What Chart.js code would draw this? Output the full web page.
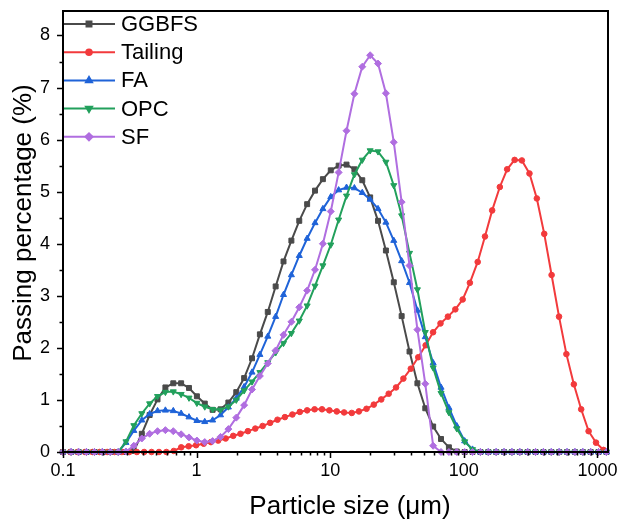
<!DOCTYPE html>
<html>
<head>
<meta charset="utf-8">
<script src="https://cdn.jsdelivr.net/npm/chart.js@4.4.1/dist/chart.umd.min.js"></script>
<style>
  html, body { margin: 0; padding: 0; background: #fff; }
  #wrap { width: 619px; height: 522px; }
</style>
</head>
<body>
<div id="wrap"><canvas id="psd" width="619" height="522"></canvas></div>
<script>
// size classes (um) of the two instruments
const sizesA = [0.0995, 0.113, 0.128, 0.146, 0.166, 0.188, 0.214, 0.243, 0.276, 0.314, 0.357, 0.405, 0.460, 0.523, 0.594,
  0.675, 0.767, 0.872, 0.991, 1.13, 1.28, 1.45, 1.65, 1.88, 2.13, 2.42, 2.75, 3.12, 3.55, 4.03, 4.58, 5.21, 5.92, 6.72,
  7.64, 8.68, 9.86, 11.2, 12.7, 14.5, 16.4, 18.7, 21.2, 24.1, 27.4, 31.1, 35.3, 40.1, 45.6, 51.8, 58.9, 66.9, 76.0, 86.4,
  98.1, 111, 127, 144, 163, 186, 211, 240, 272, 310, 352, 400, 454, 516, 586, 666, 756, 859, 976, 1110];
const sizesB = [0.100, 0.115, 0.131, 0.150, 0.172, 0.197, 0.226, 0.259, 0.296, 0.339, 0.389, 0.445, 0.510, 0.584, 0.669,
  0.766, 0.877, 1.005, 1.151, 1.318, 1.510, 1.729, 1.981, 2.269, 2.599, 2.976, 3.409, 3.905, 4.472, 5.122, 5.867, 6.720,
  7.697, 8.816, 10.097, 11.565, 13.246, 15.172, 17.377, 19.904, 22.797, 26.111, 29.907, 34.255, 39.234, 44.938, 51.471,
  58.953, 67.523, 77.339, 88.583, 101.46, 116.21, 133.10, 152.45, 174.62, 200.00, 229.08, 262.38, 300.52, 344.21, 394.24,
  451.56, 517.20, 592.39, 678.50, 777.14, 890.12, 1019.5, 1167.7];

// passing percentage (%)
const ggbfs = [0, 0, 0, 0, 0, 0, 0, 0, 0, 0.02, 0.35, 0.71, 1.01, 1.24, 1.32, 1.32, 1.23, 1.07, 0.93, 0.81, 0.82, 0.95,
  1.15, 1.42, 1.80, 2.26, 2.69, 3.18, 3.66, 4.06, 4.44, 4.76, 5.02, 5.24, 5.41, 5.50, 5.52, 5.43, 5.22, 4.89, 4.44, 3.87,
  3.26, 2.61, 1.93, 1.32, 0.84, 0.49, 0.25, 0.09, 0.01, 0, 0, 0, 0, 0, 0, 0, 0, 0, 0, 0, 0, 0, 0, 0, 0, 0, 0, 0];
const tailing = [0, 0, 0, 0, 0, 0, 0, 0, 0, 0, 0, 0, 0, 0, 0, 0.02, 0.09, 0.11, 0.13, 0.16, 0.19, 0.22, 0.26, 0.31, 0.35,
  0.40, 0.45, 0.50, 0.56, 0.62, 0.67, 0.72, 0.77, 0.80, 0.82, 0.82, 0.80, 0.78, 0.76, 0.75, 0.78, 0.83, 0.91, 1.01, 1.12,
  1.24, 1.41, 1.60, 1.82, 2.05, 2.30, 2.47, 2.60, 2.74, 2.93, 3.25, 3.65, 4.14, 4.64, 5.09, 5.43, 5.61, 5.60, 5.35, 4.87,
  4.19, 3.40, 2.60, 1.88, 1.30, 0.82, 0.40, 0.18, 0.04];
const fa = [0, 0, 0, 0, 0, 0, 0, 0, 0.18, 0.41, 0.61, 0.73, 0.79, 0.80, 0.79, 0.74, 0.67, 0.60, 0.58, 0.61, 0.71, 0.86,
  1.03, 1.25, 1.53, 1.87, 2.22, 2.60, 3.02, 3.40, 3.77, 4.10, 4.40, 4.67, 4.90, 5.03, 5.08, 5.07, 4.98, 4.85, 4.67, 4.41,
  4.06, 3.67, 3.25, 2.72, 2.21, 1.71, 1.24, 0.85, 0.50, 0.21, 0.05, 0, 0, 0, 0, 0, 0, 0, 0, 0, 0, 0, 0, 0, 0, 0, 0, 0];
const opc = [0, 0, 0, 0, 0, 0, 0, 0, 0.20, 0.51, 0.74, 0.93, 1.07, 1.15, 1.16, 1.11, 1.04, 0.94, 0.87, 0.82, 0.81, 0.87,
  1.00, 1.18, 1.35, 1.53, 1.72, 1.91, 2.09, 2.28, 2.52, 2.81, 3.19, 3.58, 3.98, 4.46, 4.92, 5.33, 5.61, 5.79, 5.77, 5.57,
  5.12, 4.54, 3.82, 3.12, 2.30, 1.62, 1.13, 0.76, 0.45, 0.20, 0.05, 0, 0, 0, 0, 0, 0, 0, 0, 0, 0, 0, 0, 0, 0, 0, 0, 0];
const sf = [0, 0, 0, 0, 0, 0, 0, 0, 0.01, 0.12, 0.26, 0.35, 0.40, 0.42, 0.40, 0.34, 0.28, 0.22, 0.19, 0.21, 0.29, 0.44,
  0.66, 0.90, 1.20, 1.46, 1.70, 1.95, 2.25, 2.50, 2.78, 3.10, 3.50, 4.00, 4.62, 5.37, 6.17, 6.88, 7.40, 7.62, 7.46, 6.89,
  5.95, 4.80, 3.58, 2.35, 1.31, 0.12, 0, 0, 0, 0, 0, 0, 0, 0, 0, 0, 0, 0, 0, 0, 0, 0, 0, 0, 0, 0, 0, 0];

const xTicks = [0.1, 1, 10, 100, 1000];
const xMinor = [0.2, 0.3, 0.4, 0.5, 0.6, 0.7, 0.8, 0.9, 2, 3, 4, 5, 6, 7, 8, 9, 20, 30, 40, 50, 60, 70, 80, 90,
  200, 300, 400, 500, 600, 700, 800, 900];
const yTicks = [0, 1, 2, 3, 4, 5, 6, 7, 8];
const yMinor = [0.5, 1.5, 2.5, 3.5, 4.5, 5.5, 6.5, 7.5];
const xTitle = 'Particle size (\u03bcm)';
const yTitle = 'Passing percentage (%)';

function pts(xs, ys) {
  return xs.map((x, i) => ({ x: x, y: ys[i] }));
}

function series(label, xs, ys, color, style, radius, rotation, order) {
  return {
    label: label,
    data: pts(xs, ys),
    borderColor: color,
    backgroundColor: color,
    borderWidth: 2,
    pointStyle: style,
    pointRadius: radius,
    pointRotation: rotation,
    pointBorderWidth: 1,
    pointHoverRadius: radius,
    order: order,
    clip: 5,
  };
}

const FONT = 'Arial, "Liberation Sans", sans-serif';
Chart.defaults.font.family = FONT;
Chart.defaults.color = '#000';

// frame plus ticks (major long, minor short, both outward) and axis titles
const framePlugin = {
  id: 'frame',
  afterDatasetsDraw(chart) {
    const { ctx, chartArea: a } = chart;
    const xs = chart.scales.x, ys = chart.scales.y;
    ctx.save();
    ctx.strokeStyle = '#000';
    ctx.lineWidth = 1.5;
    ctx.beginPath();
    xTicks.concat(xMinor).forEach((v) => {
      const len = xTicks.includes(v) ? 6 : 3.5;
      const px = Math.round(xs.getPixelForValue(v)) + 0.5;
      ctx.moveTo(px, a.bottom);
      ctx.lineTo(px, a.bottom + len);
    });
    yTicks.concat(yMinor).forEach((v) => {
      const len = yTicks.includes(v) ? 6 : 3.5;
      const py = Math.round(ys.getPixelForValue(v)) + 0.5;
      ctx.moveTo(a.left, py);
      ctx.lineTo(a.left - len, py);
    });
    ctx.stroke();
    ctx.lineWidth = 2;
    ctx.strokeRect(a.left, a.top, a.right - a.left, a.bottom - a.top);

    ctx.fillStyle = '#000';
    ctx.font = '26px ' + FONT;
    ctx.textAlign = 'center';
    ctx.textBaseline = 'alphabetic';
    ctx.fillText(xTitle, 350, 514);
    ctx.translate(31, 223);
    ctx.rotate(-Math.PI / 2);
    ctx.fillText(yTitle, 0, 0);
    ctx.restore();
  },
};

// legend drawn inside the plot, top left
const legendPlugin = {
  id: 'innerLegend',
  afterDraw(chart) {
    const { ctx, chartArea: a } = chart;
    ctx.save();
    ctx.font = '22px ' + FONT;
    ctx.textBaseline = 'middle';
    chart.data.datasets.forEach((ds, k) => {
      const y = a.top + 13 + k * 28.2;
      ctx.strokeStyle = ds.borderColor;
      ctx.fillStyle = ds.backgroundColor;
      ctx.lineWidth = 2;
      ctx.beginPath();
      ctx.moveTo(a.left + 1, y);
      ctx.lineTo(a.left + 52, y);
      ctx.stroke();
      Chart.helpers.drawPoint(ctx, { pointStyle: ds.pointStyle, radius: ds.pointRadius, rotation: ds.pointRotation, borderWidth: 1 }, a.left + 26, y);
      ctx.fillStyle = '#000';
      ctx.fillText(ds.label, a.left + 58, y + 1);
    });
    ctx.restore();
  },
};

new Chart(document.getElementById('psd'), {
  type: 'line',
  data: {
    datasets: [
      series('GGBFS', sizesB, ggbfs, '#4a4a4a', 'rect', 3.5, 0, 5),
      series('Tailing', sizesA, tailing, '#f23a3c', 'circle', 2.8, 0, 4),
      series('FA', sizesB, fa, '#1f63d8', 'triangle', 3.5, 0, 3),
      series('OPC', sizesB, opc, '#22a05c', 'triangle', 3.5, 180, 2),
      series('SF', sizesB, sf, '#b06ee0', 'rectRot', 3.5, 0, 1),
    ],
  },
  options: {
    responsive: false,
    animation: false,
    devicePixelRatio: 1,
    layout: { padding: 0 },
    plugins: { legend: { display: false }, tooltip: { enabled: false } },
    elements: { line: { tension: 0 } },
    scales: {
      x: {
        type: 'logarithmic',
        min: 0.1,
        max: 1200,
        grid: { display: false, drawTicks: false },
        border: { display: false },
        afterBuildTicks: (s) => { s.ticks = xTicks.map((v) => ({ value: v })); },
        afterFit: (s) => { s.height = 70; s.paddingLeft = 0; s.paddingRight = 11; },
        ticks: { autoSkip: false, maxRotation: 0, padding: 8, font: { size: 18 }, callback: (v) => String(v) },
      },
      y: {
        min: 0,
        max: 8.47,
        grid: { display: false, drawTicks: false },
        border: { display: false },
        afterBuildTicks: (s) => { s.ticks = yTicks.map((v) => ({ value: v })); },
        afterFit: (s) => { s.width = 63; s.paddingTop = 11; s.paddingBottom = 0; },
        ticks: { autoSkip: false, padding: 13, font: { size: 18 } },
      },
    },
  },
  plugins: [framePlugin, legendPlugin],
});
</script>
</body>
</html>
